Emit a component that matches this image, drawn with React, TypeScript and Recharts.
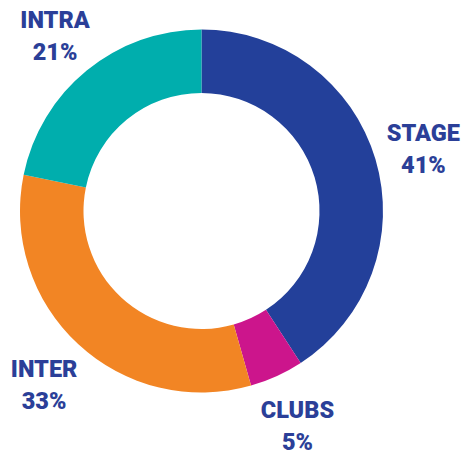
// Donut de participação por tipo de evento, com rótulos em duas linhas (nome + %).

import { Cell, Pie, PieChart } from "recharts";

const CATEGORIES = ["STAGE", "CLUBS", "INTER", "INTRA"];
// Fatias medidas no desenho (os rótulos arredondam).
const VALUES = [40.8, 4.8, 32.6, 21.8];
const PERCENT_LABELS = ["41%", "5%", "33%", "21%"];
const COLORS = ["#23409a", "#cc158c", "#f28524", "#00aead"];

const LABEL_COLOR = "#2b3f98";
const RADIAN = Math.PI / 180;

const rows = CATEGORIES.map((name, i) => ({ name, value: VALUES[i] }));

type LabelProps = {
  cx: number;
  cy: number;
  midAngle: number;
  outerRadius: number;
  index: number;
};

function SliceLabel({ cx, cy, midAngle, outerRadius, index }: LabelProps) {
  const r = outerRadius + 50;
  const x = cx + r * Math.cos(-midAngle * RADIAN);
  const y = cy + r * Math.sin(-midAngle * RADIAN);
  return (
    <text
      x={x}
      y={y}
      textAnchor="middle"
      fill={LABEL_COLOR}
      fontFamily="Roboto, 'Noto Sans', sans-serif"
      fontWeight={900}
      fontSize={23.5}
    >
      <tspan x={x} y={y - 4}>
        {CATEGORIES[index]}
      </tspan>
      <tspan x={x} y={y + 28}>
        {PERCENT_LABELS[index]}
      </tspan>
    </text>
  );
}

export default function App() {
  return (
    <div
      style={{
        position: "absolute",
        top: 0,
        left: 0,
        width: 462,
        height: 451,
        overflow: "hidden",
        background: "#fff",
      }}
    >
      <PieChart width={462} height={451} margin={{ top: 0, right: 0, bottom: 0, left: 0 }}>
        <Pie
          data={rows}
          dataKey="value"
          nameKey="name"
          cx={201.5}
          cy={211}
          innerRadius={118}
          outerRadius={181.5}
          startAngle={90}
          endAngle={-270}
          stroke="none"
          labelLine={false}
          label={(props: LabelProps) => <SliceLabel {...props} />}
          isAnimationActive={false}
        >
          {rows.map((row, i) => (
            <Cell key={row.name} fill={COLORS[i]} />
          ))}
        </Pie>
      </PieChart>
    </div>
  );
}
